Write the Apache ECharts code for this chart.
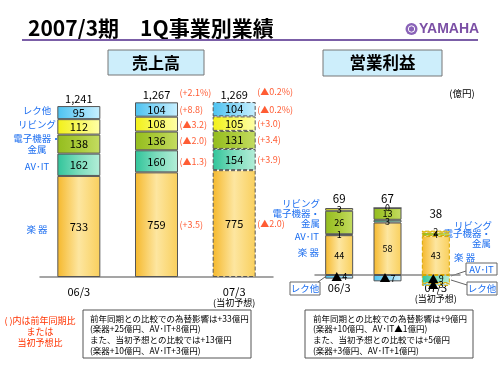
<!DOCTYPE html>
<html>
<head>
<meta charset="utf-8">
<script src="https://cdn.jsdelivr.net/npm/echarts@6/dist/echarts.min.js"></script>
<style>
  html, body { margin: 0; padding: 0; background: #fff; }
  #main { width: 500px; height: 375px; }
</style>
</head>
<body>
<div id="main"></div>
<script>
const FONT = '"Noto Sans CJK JP", sans-serif';

const categories = ['06/3', '07/3', '07/3\n(当初予想)'];

// 売上高 (億円)
const salesGakki = [733, 759, 775];
const salesAvit = [162, 160, 154];
const salesDenshi = [138, 136, 131];
const salesLiving = [112, 108, 105];
const salesRec = [95, 104, 104];
const salesTotal = ['1,241', '1,267', '1,269'];

// ( )内は前年同期比 または 当初予想比
const noteGakki = ['', '(+3.5)', '(▲2.0)'];
const noteAvit = ['', '(▲1.3)', '(+3.9)'];
const noteDenshi = ['', '(▲2.0)', '(+3.4)'];
const noteLiving = ['', '(▲3.2)', '(+3.0)'];
const noteRec = ['', '(+8.8)', '(▲0.2%)'];
const noteTotal = ['', '(+2.1%)', '(▲0.2%)'];

// 営業利益 (億円)
const profitGakki = [44, 58, 43];
const profitAvit = [1, 3, -9];
const profitDenshi = [26, 13, 4];
const profitLiving = [3, 0, 2];
const profitRec = [-4, -7, -3];
const profitTotal = [69, 67, 38];

const blue = '#1e6ff0';
const red = '#ff3300';

const grad = (c0, c1, c2) => new echarts.graphic.LinearGradient(0, 0, 1, 0, [
  { offset: 0, color: c0 },
  { offset: 0.5, color: c1 },
  { offset: 1, color: c2 },
]);

const colGakki = grad('#f5b82c', '#fde6a0', '#f9cf5c');
const colAvit = grad('#30c49a', '#7cdcbc', '#b4eed8');
const colDenshi = grad('#94bd1e', '#abcb3a', '#c4dc62');
const colLiving = grad('#f2f018', '#f8f860', '#ffffa8');
const colRec = grad('#4cc2f0', '#8ad8f8', '#c8f0ff');

// 当初予想 (index 2) は点線枠
const withDash = (vals, dashColor) => vals.map((v, i) => (i === 2
  ? { value: v, itemStyle: { borderType: 'dashed', borderColor: dashColor } }
  : v));

const negFmt = (p) => (p.value < 0 ? '{t|▲}' + (-p.value) : String(p.value));

const barSeries = (name, vals, color, axis, opts) => ({
  name,
  type: 'bar',
  xAxisIndex: axis,
  yAxisIndex: axis,
  stack: axis === 0 ? 'sales' : 'profit',
  barWidth: axis === 0 ? 43 : 28,
  data: withDash(vals, axis === 0 ? '#555' : '#d8a800'),
  itemStyle: { color, borderColor: '#555', borderWidth: 1 },
  label: {
    show: true,
    position: 'inside',
    color: '#000',
    fontFamily: FONT,
    fontSize: axis === 0 ? 11 : 9,
    formatter: negFmt,
    rich: { t: { fontSize: 11, color: '#000' } },
  },
  silent: true,
  ...opts,
});

const totalSeries = (labels, axis, distances) => ({
  type: 'bar',
  xAxisIndex: axis,
  yAxisIndex: axis,
  stack: axis === 0 ? 'sales' : 'profit',
  barWidth: axis === 0 ? 43 : 28,
  data: labels.map((t, i) => ({ value: 0, label: { distance: distances[i] } })),
  itemStyle: { color: 'transparent', borderWidth: 0 },
  label: {
    show: true,
    position: 'top',
    color: '#000',
    fontFamily: FONT,
    fontSize: axis === 0 ? 11 : 11.5,
    formatter: (p) => String(labels[p.dataIndex]),
  },
  silent: true,
});

// 増減率の注記: セグメント中心の高さに置く
const salesStack = [salesGakki, salesAvit, salesDenshi, salesLiving, salesRec];
const noteStack = [noteGakki, noteAvit, noteDenshi, noteLiving, noteRec];
const noteData = [];
for (let i = 0; i < categories.length; i++) {
  let base = 0;
  for (let k = 0; k < salesStack.length; k++) {
    const v = salesStack[k][i];
    if (noteStack[k][i]) {
      noteData.push({ value: [i, base + v / 2, noteStack[k][i]] });
    }
    base += v;
  }
  if (noteTotal[i]) {
    noteData.push({ value: [i, base, noteTotal[i]], label: { offset: [0, -10] } });
  }
}

const txt = (x, y, text, opts) => ({
  type: 'text',
  x,
  y,
  silent: true,
  style: Object.assign({
    text,
    fill: '#000',
    font: `10px ${FONT}`,
    align: 'left',
    verticalAlign: 'middle',
  }, opts || {}),
});
const rect = (x, y, w, h, fill, stroke) => ({
  type: 'rect',
  silent: true,
  shape: { x, y, width: w, height: h },
  style: { fill, stroke, lineWidth: 1 },
});
const line = (x1, y1, x2, y2, color, w) => ({
  type: 'line',
  silent: true,
  shape: { x1, y1, x2, y2 },
  style: { stroke: color, lineWidth: w || 1 },
});

const blueFont = `9.5px ${FONT}`;
const noteFont = `8.5px ${FONT}`;

const graphics = [
  // タイトル
  txt(28, 28.5, '2007/3期　1Q事業別業績', { font: `bold 21px ${FONT}` }),
  line(22, 40, 478, 40, '#7b5ea7', 2),
  { type: 'circle', silent: true, shape: { cx: 411.5, cy: 29, r: 6 }, style: { fill: '#8a63b8' } },
  { type: 'circle', silent: true, shape: { cx: 411.5, cy: 29, r: 3.2 }, style: { fill: 'none', stroke: '#fff', lineWidth: 1 } },
  txt(419, 29.5, 'YAMAHA', { font: `bold 14px "Liberation Sans", sans-serif`, fill: '#7b4fa5' }),

  // 見出しボックス
  rect(108, 50, 96, 25, '#cdeefb', '#777'),
  txt(156, 62.5, '売上高', { font: `bold 16px ${FONT}`, align: 'center' }),
  rect(323, 50, 119, 26, '#cdeefb', '#777'),
  txt(382.5, 63, '営業利益', { font: `bold 16.5px ${FONT}`, align: 'center' }),
  txt(462, 93, '(億円)', { font: `9.5px ${FONT}`, align: 'center' }),

  // 売上高 セグメント名
  txt(37, 110, 'レク他', { font: blueFont, fill: blue, align: 'center' }),
  txt(37, 124, 'リビング', { font: blueFont, fill: blue, align: 'center' }),
  txt(37, 144, '電子機器・\n金属', { font: blueFont, fill: blue, align: 'center', lineHeight: 11 }),
  txt(37, 166, 'AV･IT', { font: blueFont, fill: blue, align: 'center' }),
  txt(37, 229, '楽 器', { font: blueFont, fill: blue, align: 'center' }),

  // 営業利益 セグメント名 (06/3 側)
  txt(320, 203, 'リビング', { font: blueFont, fill: blue, align: 'right' }),
  txt(320, 218.5, '電子機器・\n金属', { font: blueFont, fill: blue, align: 'right', lineHeight: 10.5 }),
  txt(319, 236, 'AV･IT', { font: blueFont, fill: blue, align: 'right' }),
  txt(319, 252, '楽 器', { font: blueFont, fill: blue, align: 'right' }),
  rect(290, 282, 30, 13, '#fff', '#666'),
  txt(305, 288.5, 'レク他', { font: blueFont, fill: blue, align: 'center' }),
  line(318, 282, 325, 277, '#666'),

  // 営業利益 セグメント名 (当初予想 側)
  txt(454, 225, 'リビング', { font: blueFont, fill: blue }),
  txt(491, 238.5, '電子機器・\n金属', { font: blueFont, fill: blue, align: 'right', lineHeight: 10.5 }),
  txt(454, 257, '楽 器', { font: blueFont, fill: blue }),
  rect(466, 263, 31, 12, '#fff', '#666'),
  txt(481.5, 269, 'AV･IT', { font: blueFont, fill: blue, align: 'center' }),
  line(466, 271, 451, 276, '#666'),
  rect(467, 282, 30, 13, '#fff', '#666'),
  txt(482, 288.5, 'レク他', { font: blueFont, fill: blue, align: 'center' }),
  line(467, 285, 451, 280, '#666'),

  // 注記
  txt(40, 321, '( )内は前年同期比', { font: `9px ${FONT}`, fill: red, align: 'center' }),
  txt(40, 332, 'または', { font: `9px ${FONT}`, fill: red, align: 'center' }),
  txt(40, 343, '当初予想比', { font: `9px ${FONT}`, fill: red, align: 'center' }),

  rect(83, 310, 168, 48, '#fff', '#555'),
  txt(90, 319, '前年同期との比較での為替影響は+33億円', { font: noteFont }),
  txt(90, 329, '(楽器+25億円、AV･IT+8億円)', { font: noteFont }),
  txt(90, 340, 'また、当初予想との比較では+13億円', { font: noteFont }),
  txt(90, 350.5, '(楽器+10億円、AV･IT+3億円)', { font: noteFont }),

  rect(305, 310, 168, 48, '#fff', '#555'),
  txt(313, 319, '前年同期との比較での為替影響は+9億円', { font: noteFont }),
  txt(313, 329, '(楽器+10億円、AV･IT▲1億円)', { font: noteFont }),
  txt(313, 340, 'また、当初予想との比較では+5億円', { font: noteFont }),
  txt(313, 350.5, '(楽器+3億円、AV･IT+1億円)', { font: noteFont }),
];

const xAxisBase = (gridIndex) => ({
  gridIndex,
  type: 'category',
  data: categories,
  axisLine: { onZero: true, lineStyle: { color: '#888', width: 1.5 } },
  axisTick: { inside: true, length: 4, lineStyle: { color: '#888' } },
  axisLabel: {
    color: '#000',
    fontFamily: FONT,
    fontSize: 11,
    margin: gridIndex === 0 ? 9 : -11,
    formatter: (v) => v.split('\n').map((s, j) => (j ? `{s|${s}}` : s)).join('\n'),
    rich: { s: { fontSize: 9, fontFamily: FONT, color: '#000', lineHeight: 11 } },
  },
});

const myChart = echarts.init(document.getElementById('main'));

const option = {
  animation: false,
  backgroundColor: '#fff',
  grid: [
    { left: 40, top: 84, width: 233, height: 193 },
    { left: 315, top: 202.6, width: 145, height: 90.5 },
  ],
  xAxis: [xAxisBase(0), xAxisBase(1)],
  yAxis: [
    { gridIndex: 0, type: 'value', min: 0, max: 1400, show: false },
    { gridIndex: 1, type: 'value', min: -20, max: 80, show: false },
  ],
  series: [
    barSeries('楽器', salesGakki, colGakki, 0),
    barSeries('AV･IT', salesAvit, colAvit, 0),
    barSeries('電子機器・金属', salesDenshi, colDenshi, 0),
    barSeries('リビング', salesLiving, colLiving, 0),
    barSeries('レク他', salesRec, colRec, 0),
    totalSeries(salesTotal, 0, [2, 2, 2]),
    {
      type: 'scatter',
      xAxisIndex: 0,
      yAxisIndex: 0,
      symbolSize: 0,
      silent: true,
      data: noteData,
      label: {
        show: true,
        position: 'right',
        distance: 23,
        color: red,
        fontFamily: FONT,
        fontSize: 9,
        formatter: (p) => p.value[2],
      },
      z: 5,
    },
    barSeries('楽器', profitGakki, colGakki, 1),
    barSeries('AV･IT', profitAvit, colAvit, 1),
    barSeries('電子機器・金属', profitDenshi, colDenshi, 1),
    barSeries('リビング', profitLiving, colLiving, 1),
    totalSeries(profitTotal, 1, [4, 4, 11]),
    barSeries('レク他', profitRec, colRec, 1),
  ],
  graphic: graphics,
};
myChart.setOption(option);
</script>
</body>
</html>
